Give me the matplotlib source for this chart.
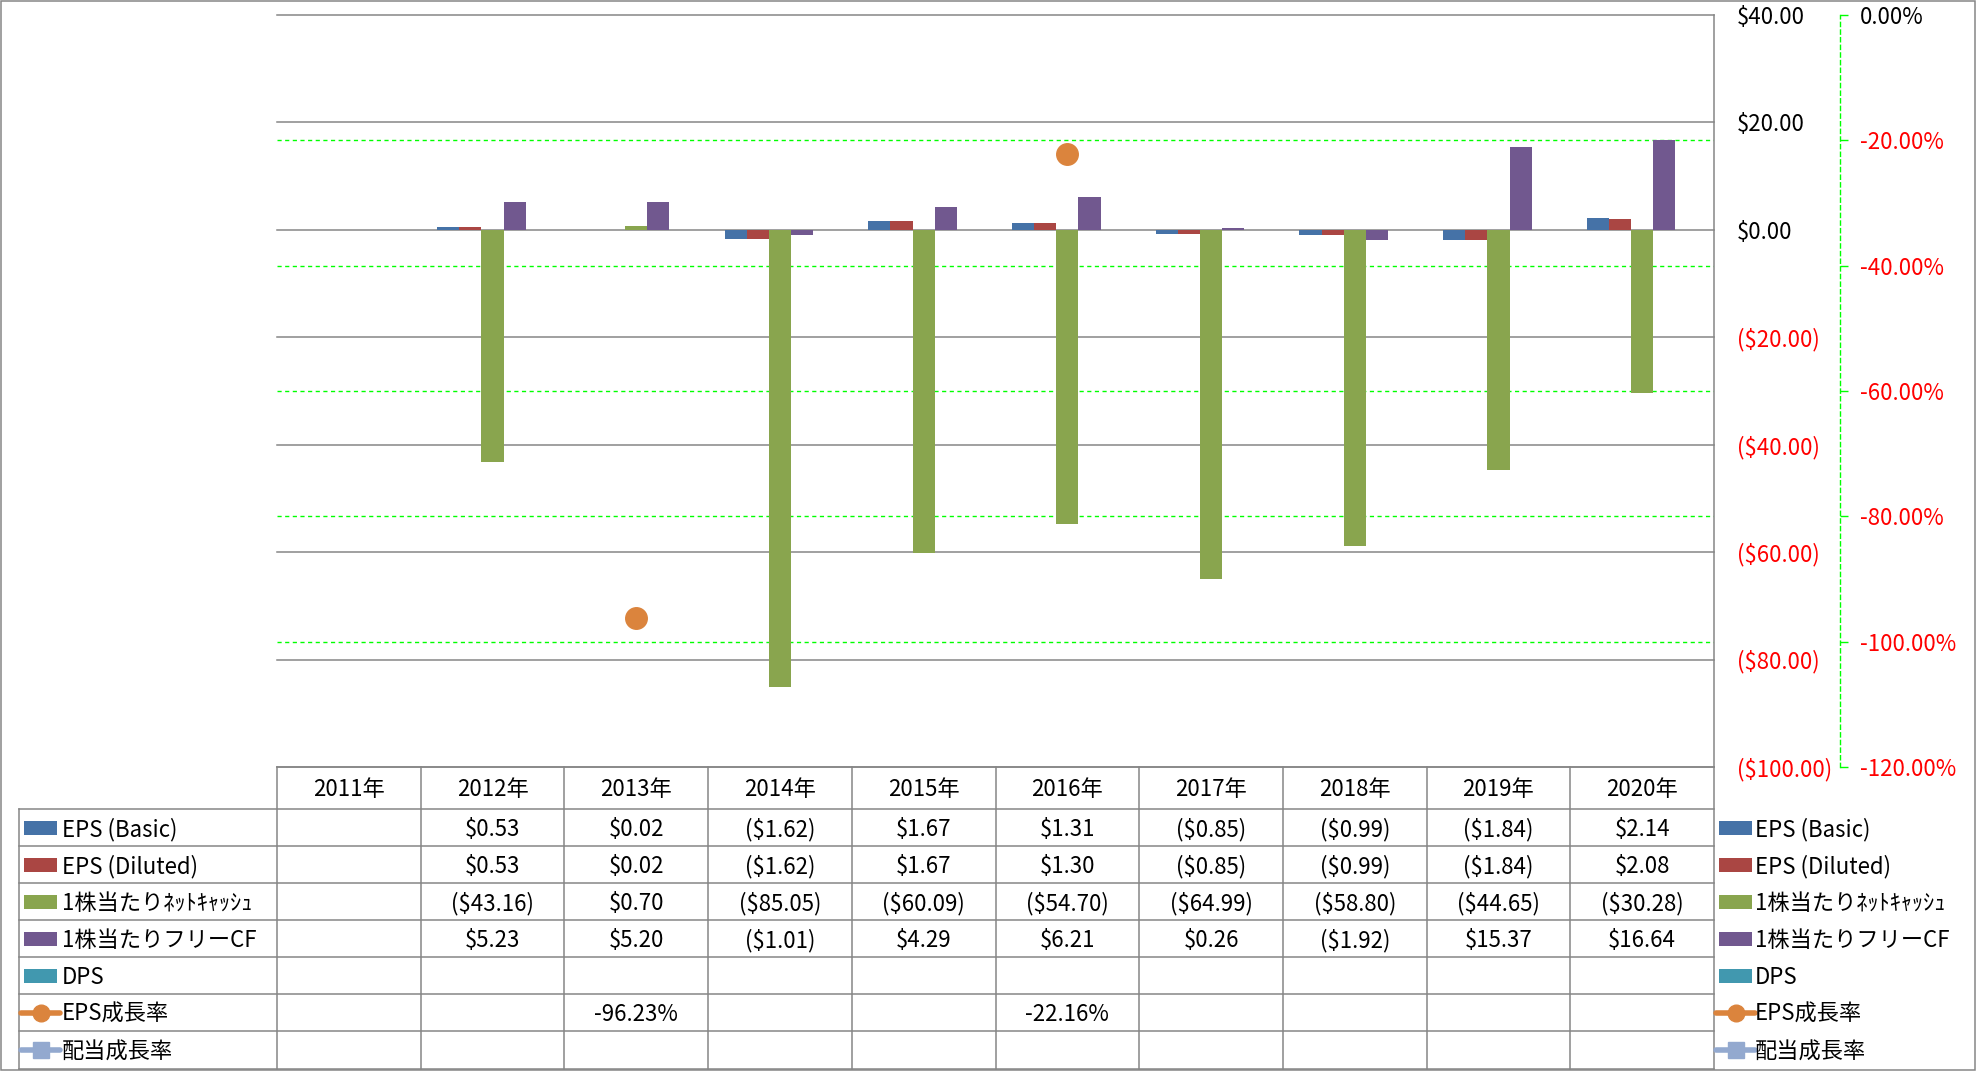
import numpy as np
import matplotlib
matplotlib.use("Agg")
import matplotlib.pyplot as plt
from matplotlib.patches import Rectangle
from matplotlib.ticker import FuncFormatter

plt.rcParams['font.family'] = ['Noto Sans CJK JP', 'DejaVu Sans']
plt.rcParams['font.size'] = 16

# ---------------- data ----------------
years = ["2011年", "2012年", "2013年", "2014年", "2015年", "2016年", "2017年", "2018年", "2019年", "2020年"]
nan = np.nan
eps_basic = [nan, 0.53, 0.02, -1.62, 1.67, 1.31, -0.85, -0.99, -1.84, 2.14]
eps_diluted = [nan, 0.53, 0.02, -1.62, 1.67, 1.30, -0.85, -0.99, -1.84, 2.08]
net_cash_ps = [nan, -43.16, 0.70, -85.05, -60.09, -54.70, -64.99, -58.80, -44.65, -30.28]
fcf_ps = [nan, 5.23, 5.20, -1.01, 4.29, 6.21, 0.26, -1.92, 15.37, 16.64]
dps = [nan] * 10
eps_growth = [nan, nan, -96.23, nan, nan, -22.16, nan, nan, nan, nan]
div_growth = [nan] * 10

bar_names = ["EPS (Basic)", "EPS (Diluted)", "1株当たりﾈｯﾄｷｬｯｼｭ", "1株当たりフリーCF", "DPS"]
line_names = ["EPS成長率", "配当成長率"]
primary_ticks = [40, 20, 0, -20, -40, -60, -80, -100]
secondary_ticks = [0, -20, -40, -60, -80, -100, -120]

bar_colors = ["#4572A7", "#AA4643", "#89A54E", "#71588F", "#4198AF"]
line_colors = ["#DB843D", "#93A9CF"]
GRAY = "#868686"
GREEN = "#00FF00"

# ---------------- layout (pixels) ----------------
W, H = 1976, 1071
DPI = 100
PL, PR, PT, PB = 277, 1714, 15, 767
row_edges = [767, 809, 846, 883, 920, 957, 994, 1031, 1069]
TL = 19
TXT_DY = 2

fig = plt.figure(figsize=(W / DPI, H / DPI), dpi=DPI)
ax = fig.add_axes([PL / W, 1 - PB / H, (PR - PL) / W, (PB - PT) / H])
ax2 = ax.twinx()
ax2.set_zorder(ax.get_zorder() - 1)
ax.patch.set_visible(False)

x = np.arange(len(years))
n_bars = len(bar_names)
bw = 1.0 / (n_bars + 1.5)
bar_series = [eps_basic, eps_diluted, net_cash_ps, fcf_ps, dps]
for i, (vals, col) in enumerate(zip(bar_series, bar_colors)):
    ax.bar(x + (i - (n_bars - 1) / 2) * bw, vals, bw, color=col, zorder=3)

ax.set_xlim(-0.5, len(years) - 0.5)
ax.set_ylim(-100, 40)
ax.set_xticks([])
ax.set_yticks(primary_ticks)
ax.yaxis.tick_right()
ax.yaxis.set_major_formatter(FuncFormatter(lambda v, p: f"${v:.2f}" if v >= 0 else f"(${-v:.2f})"))
ax.tick_params(axis='y', length=0, pad=16.5, labelsize=16)
ax.set_axisbelow(True)
ax.yaxis.grid(True, color=GRAY, lw=1.1)
for gl in ax.get_ygridlines():
    gl.set_clip_on(False)
for s in ['top', 'left', 'bottom']:
    ax.spines[s].set_visible(False)
ax.spines['right'].set_color(GRAY)
ax.spines['right'].set_linewidth(1.1)
for lab, v in zip(ax.get_yticklabels(), primary_ticks):
    lab.set_color('black' if v >= 0 else 'red')

# secondary axis
ax2.plot(x, eps_growth, color=line_colors[0], marker='o', ms=15.5, mec=line_colors[0], lw=2)
ax2.plot(x, div_growth, color=line_colors[1], marker='s', ms=12, lw=2)
ax2.set_ylim(-120, 0)
ax2.set_yticks(secondary_ticks)
ax2.yaxis.set_major_formatter(FuncFormatter(lambda v, p: f"{v:.2f}%"))
ax2.spines['right'].set_position(('axes', (1840 - PL) / (PR - PL)))
ax2.spines['right'].set_color(GREEN)
ax2.spines['right'].set_linestyle((0, (3, 2.5)))
ax2.spines['right'].set_linewidth(1.0)
for s in ['top', 'left', 'bottom']:
    ax2.spines[s].set_visible(False)
ax2.tick_params(axis='y', direction='out', length=6, width=1.0, color=GREEN, pad=8.5, labelsize=16)
ax2.yaxis.grid(True, color=GREEN, lw=1.0, linestyle=(0, (3, 2.5)))
for gl, v in zip(ax2.get_ygridlines(), secondary_ticks):
    if v in (secondary_ticks[0], secondary_ticks[-1]):
        gl.set_visible(False)
for lab, v in zip(ax2.get_yticklabels(), secondary_ticks):
    lab.set_color('black' if v >= 0 else 'red')

# ---------------- overlay: table, legends, border ----------------
ov = fig.add_axes([0, 0, 1, 1])
ov.set_xlim(0, W)
ov.set_ylim(H, 0)
ov.axis('off')

ov.add_patch(Rectangle((0.5, 0.5), W - 1.5, H - 1.5, fill=False, ec=GRAY, lw=1.1))

ncol = len(years)
cw = (PR - PL) / ncol
col_edges = [PL + k * cw for k in range(ncol + 1)]
ov.plot([PL, PR], [row_edges[0]] * 2, color=GRAY, lw=1.1)
for y in row_edges[1:]:
    ov.plot([TL, PR], [y, y], color=GRAY, lw=1.1)
ov.plot([TL, TL], [row_edges[1], row_edges[-1]], color=GRAY, lw=1.1)
for xe in col_edges:
    ov.plot([xe, xe], [row_edges[0], row_edges[-1]], color=GRAY, lw=1.1)

hy = (row_edges[0] + row_edges[1]) / 2 + TXT_DY
for k, yr in enumerate(years):
    ov.text(col_edges[k] + cw / 2, hy, yr, ha='center', va='center', fontsize=16)

def fmt_money(v):
    if np.isnan(v):
        return ""
    return f"${v:.2f}" if v >= 0 else f"(${-v:.2f})"

def fmt_pct(v):
    if np.isnan(v):
        return ""
    return f"{v:.2f}%"

rows = [(bar_names[i], bar_series[i], fmt_money, 'bar', bar_colors[i]) for i in range(n_bars)]
rows += [(line_names[0], eps_growth, fmt_pct, 'o', line_colors[0]),
         (line_names[1], div_growth, fmt_pct, 's', line_colors[1])]

def legend_key(xl, yc, kind, col):
    if kind == 'bar':
        ov.add_patch(Rectangle((xl + 3, yc - 7), 33, 14, color=col, lw=0))
    else:
        ov.plot([xl, xl + 39], [yc, yc], color=col, lw=4, solid_capstyle='round')
        ov.plot([xl + 19.5], [yc], marker=kind, color=col, ms=12 if kind == 'o' else 11)

for r, (name, vals, f, kind, col) in enumerate(rows):
    yc = (row_edges[r + 1] + row_edges[r + 2]) / 2
    ty = yc + TXT_DY
    legend_key(21, yc, kind, col)
    ov.text(62, ty, name, ha='left', va='center', fontsize=16)
    for k, v in enumerate(vals):
        s = f(v)
        if s:
            ov.text(col_edges[k] + cw / 2, ty, s, ha='center', va='center', fontsize=16)
    legend_key(1716, yc, kind, col)
    ov.text(1755, ty, name, ha='left', va='center', fontsize=16)

fig.savefig("out.png", dpi=DPI)
